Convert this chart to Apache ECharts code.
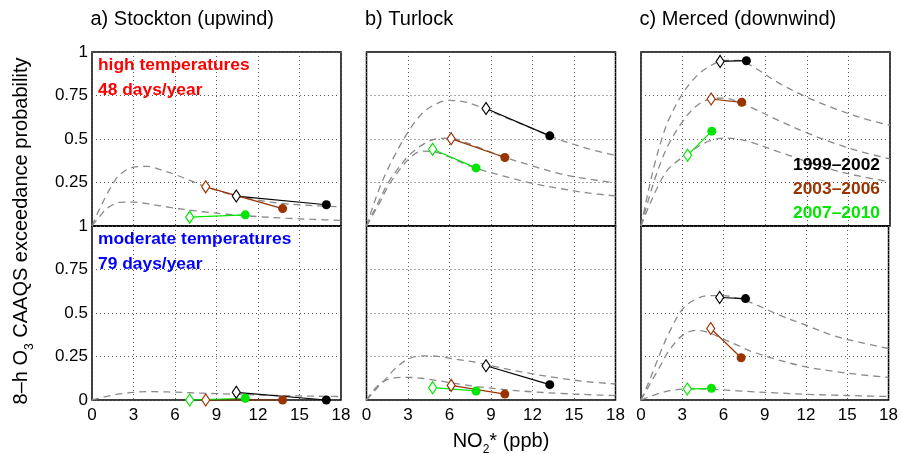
<!DOCTYPE html>
<html>
<head>
<meta charset="utf-8">
<script src="https://cdn.jsdelivr.net/npm/echarts@6/dist/echarts.min.js"></script>
<style>
  html, body { margin: 0; padding: 0; background: #fff; }
  #chart { width: 901px; height: 454px; }
</style>
</head>
<body>
<div id="chart"></div>
<script>
// ---- labels and ticks ----
const xTicks = [0, 3, 6, 9, 12, 15, 18];
const yTicks = [0, 0.25, 0.5, 0.75, 1];
const siteTitles = ['a) Stockton (upwind)', 'b) Turlock', 'c) Merced (downwind)'];
const periodLabels = ['1999\u20132002', '2003\u20132006', '2007\u20132010'];
const periodColors = ['#000000', '#993300', '#00e600'];

// ---- fitted exceedance curves, sampled at curveX ----
const curveX = [0, 0.5, 1, 1.5, 2, 3, 4, 5, 6, 7, 8, 10, 12, 14, 16, 18];

const stocktonHighCurveA = [0, 0.09, 0.17, 0.24, 0.295, 0.338, 0.343, 0.322, 0.296, 0.265, 0.232, 0.182, 0.148, 0.128, 0.117, 0.11];
const stocktonHighCurveB = [0, 0.05, 0.095, 0.122, 0.136, 0.137, 0.128, 0.115, 0.103, 0.092, 0.082, 0.066, 0.054, 0.045, 0.038, 0.032];
const stocktonModCurveA  = [0, 0.01, 0.02, 0.028, 0.035, 0.044, 0.048, 0.047, 0.045, 0.042, 0.039, 0.034, 0.029, 0.025, 0.022, 0.02];

const turlockHighCurveA = [0, 0.12, 0.23, 0.32, 0.40, 0.54, 0.645, 0.70, 0.722, 0.715, 0.69, 0.625, 0.56, 0.495, 0.445, 0.405];
const turlockHighCurveB = [0, 0.08, 0.16, 0.24, 0.30, 0.40, 0.465, 0.50, 0.505, 0.485, 0.455, 0.395, 0.345, 0.30, 0.27, 0.248];
const turlockHighCurveC = [0, 0.07, 0.14, 0.22, 0.28, 0.38, 0.43, 0.425, 0.395, 0.36, 0.33, 0.285, 0.245, 0.215, 0.19, 0.173];
const turlockModCurveA  = [0, 0.045, 0.09, 0.13, 0.175, 0.235, 0.254, 0.252, 0.24, 0.228, 0.215, 0.18, 0.15, 0.125, 0.105, 0.092];
const turlockModCurveB  = [0, 0.055, 0.095, 0.117, 0.127, 0.13, 0.125, 0.113, 0.1, 0.088, 0.077, 0.06, 0.047, 0.038, 0.031, 0.025];

const mercedHighCurveA = [0, 0.19, 0.36, 0.5, 0.61, 0.76, 0.86, 0.92, 0.952, 0.952, 0.92, 0.82, 0.74, 0.675, 0.62, 0.579];
const mercedHighCurveB = [0, 0.14, 0.27, 0.38, 0.47, 0.6, 0.69, 0.73, 0.735, 0.715, 0.68, 0.605, 0.535, 0.475, 0.425, 0.386];
const mercedHighCurveC = [0, 0.1, 0.19, 0.27, 0.33, 0.395, 0.45, 0.49, 0.505, 0.5, 0.48, 0.425, 0.37, 0.32, 0.283, 0.254];
const mercedModCurveA  = [0, 0.09, 0.19, 0.29, 0.38, 0.52, 0.58, 0.6, 0.6, 0.585, 0.56, 0.49, 0.43, 0.37, 0.33, 0.296];
const mercedModCurveB  = [0, 0.07, 0.14, 0.21, 0.28, 0.37, 0.40, 0.385, 0.35, 0.315, 0.28, 0.23, 0.19, 0.165, 0.145, 0.13];
const mercedModCurveC  = [0, 0.015, 0.03, 0.042, 0.052, 0.063, 0.065, 0.062, 0.058, 0.053, 0.048, 0.04, 0.033, 0.028, 0.024, 0.02];

// ---- observed [NO2*, probability]: "From" = open diamond, "To" = filled circle; one pair per period ----
const stocktonHighFrom = [[10.43, 0.172], [8.22, 0.225], [7.06, 0.051]];
const stocktonHighTo   = [[16.94, 0.122], [13.78, 0.10], [11.08, 0.064]];
const stocktonModFrom  = [[10.43, 0.044], [8.22, 0.0], [7.06, 0.0]];
const stocktonModTo    = [[16.94, 0.0], [13.78, 0.0], [11.08, 0.01]];

const turlockHighFrom = [[8.64, 0.675], [6.12, 0.502], [4.78, 0.441]];
const turlockHighTo   = [[13.25, 0.518], [10.0, 0.394], [7.92, 0.334]];
const turlockModFrom  = [[8.64, 0.197], [6.12, 0.084], [4.78, 0.071]];
const turlockModTo    = [[13.25, 0.088], [10.0, 0.034], [7.92, 0.052]];

const mercedHighFrom = [[5.72, 0.946], [5.07, 0.73], [3.37, 0.407]];
const mercedHighTo   = [[7.62, 0.95], [7.28, 0.711], [5.12, 0.545]];
const mercedModFrom  = [[5.72, 0.589], [5.07, 0.411], [3.37, 0.063]];
const mercedModTo    = [[7.6, 0.583], [7.28, 0.243], [5.12, 0.067]];

// ---- panel layout: 3 sites (columns) x 2 temperature regimes (rows) ----
const panels = [
  { col: 0, row: 0, curves: [stocktonHighCurveA, stocktonHighCurveB], from: stocktonHighFrom, to: stocktonHighTo },
  { col: 1, row: 0, curves: [turlockHighCurveA, turlockHighCurveB, turlockHighCurveC], from: turlockHighFrom, to: turlockHighTo },
  { col: 2, row: 0, curves: [mercedHighCurveA, mercedHighCurveB, mercedHighCurveC], from: mercedHighFrom, to: mercedHighTo },
  { col: 0, row: 1, curves: [stocktonModCurveA], from: stocktonModFrom, to: stocktonModTo },
  { col: 1, row: 1, curves: [turlockModCurveA, turlockModCurveB], from: turlockModFrom, to: turlockModTo },
  { col: 2, row: 1, curves: [mercedModCurveA, mercedModCurveB, mercedModCurveC], from: mercedModFrom, to: mercedModTo }
];

const FONT = '"Liberation Sans", Arial, Helvetica, sans-serif';
const colLeft = [92, 366.5, 641];
const colWidth = 249;
const rowTop = [52, 226];
const rowHeight = 174;

const grid = [], xAxis = [], yAxis = [], series = [];

panels.forEach((p, i) => {
  grid.push({
    left: colLeft[p.col], top: rowTop[p.row], width: colWidth, height: rowHeight,
    show: true, borderColor: '#000', borderWidth: 1.5, backgroundColor: 'transparent',
    containLabel: false
  });
  xAxis.push({
    gridIndex: i, type: 'value', min: xTicks[0], max: xTicks[xTicks.length - 1],
    interval: xTicks[1] - xTicks[0],
    axisLine: { show: false }, axisTick: { show: false },
    axisLabel: { show: p.row === 1, fontSize: 17, color: '#000', fontFamily: FONT, margin: 7 },
    splitLine: { show: true, lineStyle: { color: '#555', width: 1, type: [1, 3] } }
  });
  yAxis.push({
    gridIndex: i, type: 'value', min: yTicks[0], max: yTicks[yTicks.length - 1],
    interval: yTicks[1] - yTicks[0],
    axisLine: { show: false }, axisTick: { show: false },
    axisLabel: {
      show: p.col === 0, fontSize: 17, color: '#000', fontFamily: FONT, margin: 4,
      formatter: v => (p.row === 0 && v === 0) ? '' : String(v)
    },
    splitLine: { show: true, lineStyle: { color: '#555', width: 1, type: [1, 3] } }
  });

  p.curves.forEach(c => {
    series.push({
      type: 'line', xAxisIndex: i, yAxisIndex: i, silent: true,
      data: curveX.map((x, k) => [x, c[k]]),
      smooth: 0.35, showSymbol: false, z: 2,
      lineStyle: { color: '#8a8a8a', width: 1.3, type: [7, 5] }
    });
  });

  periodColors.forEach((col, k) => {
    series.push({
      type: 'line', xAxisIndex: i, yAxisIndex: i, silent: true, clip: false, z: 4,
      color: col,
      lineStyle: { color: col, width: 1.2 },
      data: [
        { value: p.from[k], symbol: 'diamond', symbolSize: [8, 12],
          itemStyle: { color: '#fff', borderColor: col, borderWidth: 1.2 } },
        { value: p.to[k], symbol: 'circle', symbolSize: 9,
          itemStyle: { color: col, borderColor: col, borderWidth: 0 } }
      ]
    });
  });
});

// ---- text overlays ----
const graphic = [];
siteTitles.forEach((t, c) => {
  graphic.push({
    type: 'text', x: colLeft[c] - 1.5, y: 19,
    style: { text: t, font: '20px ' + FONT, fill: '#000', align: 'left', verticalAlign: 'middle' }
  });
});

const notes = [
  { text: 'high temperatures', y: 65, color: '#ff0000' },
  { text: '48 days/year', y: 90, color: '#ff0000' },
  { text: 'moderate temperatures', y: 239, color: '#0000ff' },
  { text: '79 days/year', y: 264, color: '#0000ff' }
];
notes.forEach(n => {
  graphic.push({
    type: 'text', x: 98, y: n.y,
    style: { text: n.text, font: 'bold 17.4px ' + FONT, fill: n.color, align: 'left', verticalAlign: 'middle' }
  });
});

const legendY = [165, 189, 213];
periodLabels.forEach((t, k) => {
  graphic.push({
    type: 'text', x: 880, y: legendY[k], z: 10,
    style: { text: t, font: 'bold 17.4px ' + FONT, fill: periodColors[k], align: 'right', verticalAlign: 'middle' }
  });
});

const richLabel = {
  m: { fontSize: 20, fontFamily: FONT, lineHeight: 30, fill: '#000', color: '#000' },
  s: { fontSize: 12, fontFamily: FONT, lineHeight: 12, verticalAlign: 'bottom', fill: '#000', color: '#000' }
};

graphic.push({
  type: 'text', x: 21, y: 231, rotation: Math.PI / 2,
  style: {
    text: '{m|8\u2013h O}{s|3}{m| CAAQS exceedance probability}',
    rich: richLabel, align: 'center', verticalAlign: 'middle', fill: '#000'
  }
});

graphic.push({
  type: 'text', x: 501, y: 441,
  style: {
    text: '{m|NO}{s|2}{m|* (ppb)}',
    rich: richLabel, align: 'center', verticalAlign: 'middle', fill: '#000'
  }
});

const chart = echarts.init(document.getElementById('chart'), null, { renderer: 'canvas' });
chart.setOption({
  animation: false,
  backgroundColor: '#fff',
  grid, xAxis, yAxis, series, graphic
});
</script>
</body>
</html>
